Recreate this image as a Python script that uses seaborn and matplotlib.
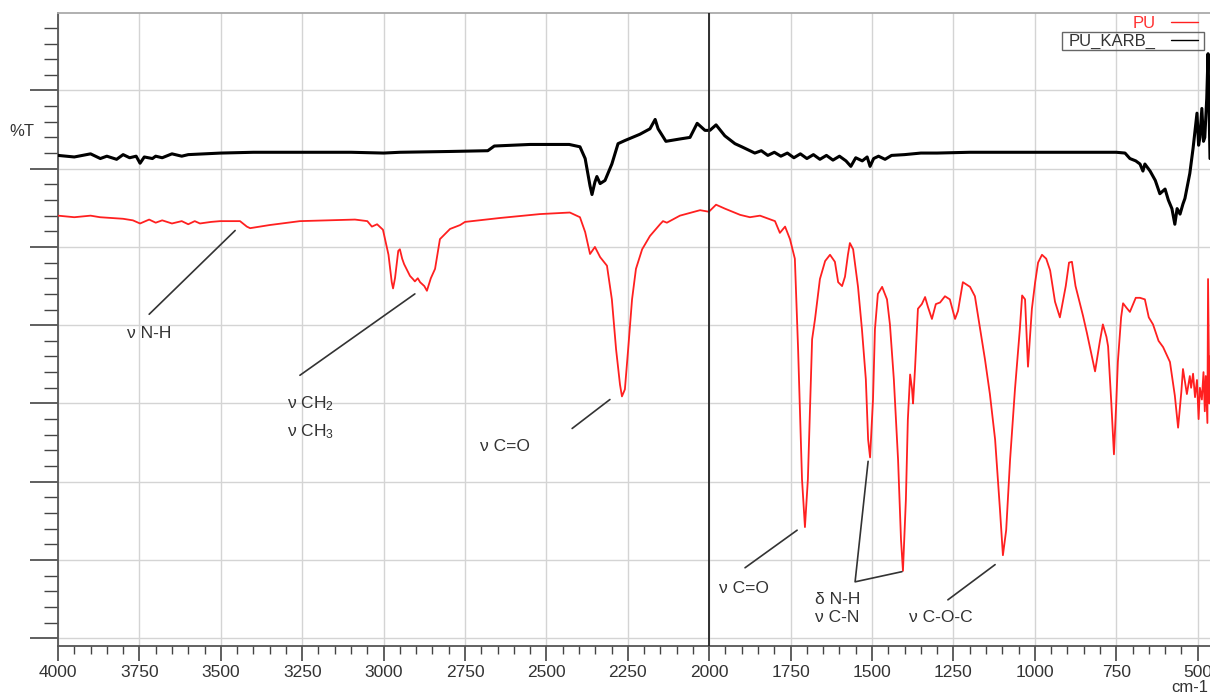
import numpy as np
import pandas as pd
import matplotlib
matplotlib.use("Agg")
import matplotlib.pyplot as plt
from matplotlib.ticker import MultipleLocator
from matplotlib.patches import Rectangle
import seaborn as sns

# ---------------- data (wavenumber cm-1, %T arbitrary units) ----------------
karb_wn = [4000, 3950, 3900, 3870, 3850, 3820, 3800, 3780, 3760, 3748, 3735, 3710, 3700, 3680,
           3650, 3620, 3600, 3500, 3400, 3250, 3100, 3000, 2950, 2800, 2680, 2660, 2550, 2430,
           2397, 2381, 2366, 2360, 2351, 2345, 2335, 2320, 2299, 2280, 2259, 2213, 2182, 2166,
           2157, 2133, 2090, 2059, 2037, 2013, 1998, 1979, 1952, 1921, 1900, 1880, 1860, 1840,
           1820, 1800, 1780, 1760, 1740, 1720, 1700, 1680, 1660, 1640, 1620, 1600, 1580, 1565,
           1550, 1530, 1515, 1506, 1495, 1480, 1460, 1440, 1400, 1350, 1300, 1200, 1000, 850,
           750, 723, 708, 690, 677, 668, 662, 646, 630, 616, 600, 590, 579, 570, 563, 554, 545,
           539, 524, 514, 502, 497, 493, 487, 482, 478, 472, 468, 462]
karb_t = [61.7, 61.5, 61.9, 61.3, 61.6, 61.2, 61.8, 61.4, 61.6, 60.7, 61.5, 61.3, 61.6, 61.4,
          61.9, 61.6, 61.8, 62.0, 62.1, 62.1, 62.1, 62.0, 62.1, 62.2, 62.3, 62.9, 63.1, 63.1,
          62.8, 61.3, 57.8, 56.7, 58.3, 59.0, 58.1, 58.5, 60.6, 63.2, 63.6, 64.4, 65.1, 66.3,
          65.1, 63.5, 63.8, 64.0, 65.8, 64.9, 64.9, 65.6, 64.2, 63.2, 62.8, 62.4, 62.0, 62.3,
          61.7, 62.1, 61.6, 62.0, 61.4, 61.9, 61.3, 61.8, 61.2, 61.7, 61.1, 61.6, 61.0, 60.3,
          61.4, 61.0, 61.5, 60.3, 61.3, 61.6, 61.2, 61.7, 61.8, 62.0, 62.0, 62.1, 62.1, 62.1,
          62.1, 62.0, 61.3, 61.0, 60.6, 59.7, 60.6, 59.7, 58.5, 56.8, 57.4, 56.0, 54.9, 52.9,
          54.9, 54.2, 55.5, 56.2, 59.4, 62.6, 67.1, 63.0, 64.0, 67.7, 63.5, 64.0, 69.0, 74.7, 61.3]

pu_wn = [4000, 3950, 3900, 3871, 3800, 3770, 3748, 3720, 3700, 3680, 3650, 3620, 3600, 3580,
         3564, 3530, 3502, 3441, 3420, 3410, 3350, 3257, 3088, 3050, 3036, 3020, 3002, 2985,
         2975, 2971, 2965, 2955, 2950, 2943, 2937, 2919, 2910, 2904, 2895, 2888, 2875, 2867,
         2855, 2842, 2827, 2796, 2765, 2750, 2643, 2520, 2428, 2397, 2381, 2366, 2351, 2335,
         2314, 2299, 2286, 2274, 2268, 2259, 2249, 2237, 2225, 2206, 2182, 2151, 2142, 2130,
         2090, 2028, 2001, 1979, 1952, 1905, 1875, 1844, 1798, 1783, 1767, 1752, 1737, 1727,
         1715, 1706, 1697, 1684, 1675, 1660, 1644, 1629, 1614, 1604, 1592, 1583, 1574, 1568,
         1558, 1543, 1531, 1519, 1512, 1506, 1497, 1491, 1482, 1469, 1454, 1445, 1433, 1420,
         1411, 1405, 1396, 1390, 1383, 1377, 1374, 1368, 1359, 1347, 1337, 1328, 1316, 1304,
         1291, 1276, 1261, 1245, 1236, 1221, 1199, 1184, 1168, 1153, 1138, 1122, 1107, 1098,
         1088, 1076, 1061, 1046, 1039, 1030, 1021, 1009, 999, 990, 978, 965, 953, 938, 923,
         905, 895, 886, 875, 852, 840, 815, 800, 791, 780, 775, 765, 757, 750, 745, 735, 729,
         718, 708, 690, 677, 662, 650, 637, 620, 606, 585, 570, 560, 550, 545, 533, 524, 520,
         514, 508, 502, 497, 493, 487, 482, 478, 475, 470, 468, 464, 462]
pu_t = [54.0, 53.8, 54.0, 53.8, 53.6, 53.4, 53.0, 53.5, 53.1, 53.4, 53.0, 53.3, 52.9, 53.3,
        53.0, 53.2, 53.3, 53.3, 52.6, 52.4, 52.8, 53.3, 53.5, 53.3, 52.6, 52.9, 52.2, 49.0,
        45.5, 44.7, 46.0, 49.5, 49.7, 48.5, 47.8, 46.3, 45.9, 45.6, 46.0, 45.5, 45.0, 44.4,
        46.0, 47.2, 51.0, 52.3, 52.8, 53.2, 53.7, 54.2, 54.4, 53.8, 51.9, 49.1, 50.0, 48.7,
        47.6, 43.3, 36.9, 32.4, 30.9, 31.8, 36.9, 43.3, 47.2, 49.7, 51.4, 52.9, 53.3, 53.1,
        54.0, 54.7, 54.5, 55.4, 54.9, 54.1, 53.8, 54.0, 53.3, 51.8, 52.6, 51.0, 48.5, 36.9,
        20.3, 14.2, 20.3, 38.2, 40.8, 45.9, 48.2, 49.0, 48.1, 45.5, 45.0, 46.2, 49.0, 50.5,
        49.7, 44.9, 39.5, 33.1, 25.4, 23.1, 30.5, 39.5, 44.0, 44.9, 43.3, 40.1, 33.1, 22.8,
        12.6, 8.6, 17.7, 27.9, 33.7, 31.8, 30.0, 34.4, 42.1, 42.7, 43.6, 42.3, 40.8, 42.7,
        42.9, 43.7, 43.3, 40.8, 41.8, 45.5, 44.9, 43.7, 39.5, 35.6, 31.2, 25.4, 16.4, 10.6,
        13.8, 22.8, 31.8, 39.5, 43.8, 43.3, 34.7, 42.1, 45.5, 48.0, 49.0, 48.5, 47.0, 43.0, 41.0,
        45.0, 48.0, 48.1, 45.0, 41.2, 39.0, 34.1, 38.0, 40.1, 38.5, 37.3, 30.0, 23.5, 30.0, 35.3,
        41.0, 42.8, 42.2, 41.7, 43.5, 43.5, 43.3, 41.0, 40.1, 38.0, 37.2, 35.3, 31.0, 26.9,
        31.5, 34.4, 31.2, 33.5, 32.0, 33.8, 30.8, 33.0, 28.0, 32.0, 30.5, 34.0, 29.0, 33.5,
        27.5, 45.9, 30.0, 36.0]

series_names = ["PU", "PU_KARB_"]
xtick_vals = [4000, 3750, 3500, 3250, 3000, 2750, 2500, 2250, 2000, 1750, 1500, 1250, 1000, 750, 500]

# annotations: (text, text_x, text_y) and leader lines
ann_texts = ["ν N-H", "ν CH$_2$", "ν CH$_3$", "ν C=O", "ν C=O", "δ N-H", "ν C-N", "ν C-O-C"]
ann_tx = [3720, 3297, 3297, 2627, 1893, 1675, 1675, 1288]
ann_ty = [39.0, 30.0, 26.4, 24.5, 6.4, 5.0, 2.6, 2.6]
ann_ha = ["center", "left", "left", "center", "center", "left", "left", "center"]
lead_x = [[3456, 3720], [2904, 3257], [2305, 2421], [1730, 1890], [1512, 1552, 1408], [1122, 1267]]
lead_y = [[52.1, 41.4], [44.0, 33.6], [30.5, 26.8], [13.8, 9.0], [22.6, 7.2, 8.5], [9.4, 4.9]]

# ---------------- figure ----------------
sns.set_style("white")
plt.rcParams["font.family"] = ["Liberation Sans", "DejaVu Sans"]
plt.rcParams["mathtext.fontset"] = "custom"
plt.rcParams["mathtext.rm"] = "Liberation Sans"
plt.rcParams["mathtext.it"] = "Liberation Sans:italic"

fig = plt.figure(figsize=(12.1, 6.95), dpi=100)
ax = fig.add_axes([58 / 1210, 1 - 646 / 695, 1 - 58 / 1210, (646 - 13) / 695])

df_pu = pd.DataFrame({"wn": pu_wn, "T": pu_t})
df_k = pd.DataFrame({"wn": karb_wn, "T": karb_t})

sns.lineplot(data=df_pu, x="wn", y="T", ax=ax, color="#ff2020", lw=1.3,
             estimator=None, sort=False, label=series_names[0], zorder=3)
sns.lineplot(data=df_k, x="wn", y="T", ax=ax, color="black", lw=2.2,
             estimator=None, sort=False, label=series_names[1], zorder=4)

ax.set_xlim(4000, 462)
ax.set_ylim(-1.0, 79.9)

ax.xaxis.set_major_locator(MultipleLocator(250))
ax.xaxis.set_minor_locator(MultipleLocator(50))
ax.yaxis.set_major_locator(MultipleLocator(10))
ax.yaxis.set_minor_locator(MultipleLocator(2))
ax.set_xticks(xtick_vals)
ax.set_xticklabels([str(v) for v in xtick_vals])
ax.tick_params(axis="x", which="major", direction="out", length=11, width=1.2,
               color="#444", labelsize=12.5, labelcolor="#333", pad=3, bottom=True)
ax.tick_params(axis="x", which="minor", direction="out", length=6, width=1,
               color="#444", bottom=True)
ax.tick_params(axis="y", which="major", direction="out", length=20, width=1.2,
               color="#444", labelleft=False, left=True)
ax.tick_params(axis="y", which="minor", direction="out", length=10, width=1,
               color="#444", left=True)

ax.grid(True, which="major", color="#d4d4d4", lw=1.0)
ax.axvline(2000, color="#222", lw=1.3, zorder=5)

for s in ["left", "bottom"]:
    ax.spines[s].set_color("#555")
    ax.spines[s].set_linewidth(1.3)
ax.spines["top"].set_color("#aaa")
ax.spines["top"].set_linewidth(1.3)
ax.spines["right"].set_visible(False)

ax.set_xlabel("")
ax.set_ylabel("")
fig.text(22 / 1210, 1 - 131 / 695, "%T", fontsize=12, color="#333", ha="center", va="center")
fig.text(1208 / 1210, 1 - 688 / 695, "cm-1", fontsize=12, color="#333", ha="right", va="center")

# annotations
for xs, ys in zip(lead_x, lead_y):
    ax.plot(xs, ys, color="#333", lw=1.2, zorder=6)
for t, x, y, ha in zip(ann_texts, ann_tx, ann_ty, ann_ha):
    ax.text(x, y, t, fontsize=12.5, color="#333", ha=ha, va="center", zorder=7)

# legend
leg = ax.legend(loc="upper right", bbox_to_anchor=(0.995, 1.006), markerfirst=False,
                frameon=False, fontsize=12, handlelength=1.6, labelspacing=0.15,
                borderaxespad=0.0, handletextpad=0.9)
leg.get_texts()[0].set_color("#ff3030")
leg.get_texts()[1].set_color("#333")
for h in leg.get_lines():
    h.set_linewidth(1.0)

fig.canvas.draw()
r = fig.canvas.get_renderer()
tb = leg.get_texts()[1].get_window_extent(r)
lb = leg.get_lines()[1].get_window_extent(r)
x0 = tb.x0 - 7
x1 = lb.x1 + 6
y0 = tb.y0 - 1
y1 = tb.y1 + 1
fig.patches.append(Rectangle((x0, y0), x1 - x0, y1 - y0, transform=None, fill=False,
                             edgecolor="#666", lw=1.0))

fig.savefig("out.png", dpi=100)
